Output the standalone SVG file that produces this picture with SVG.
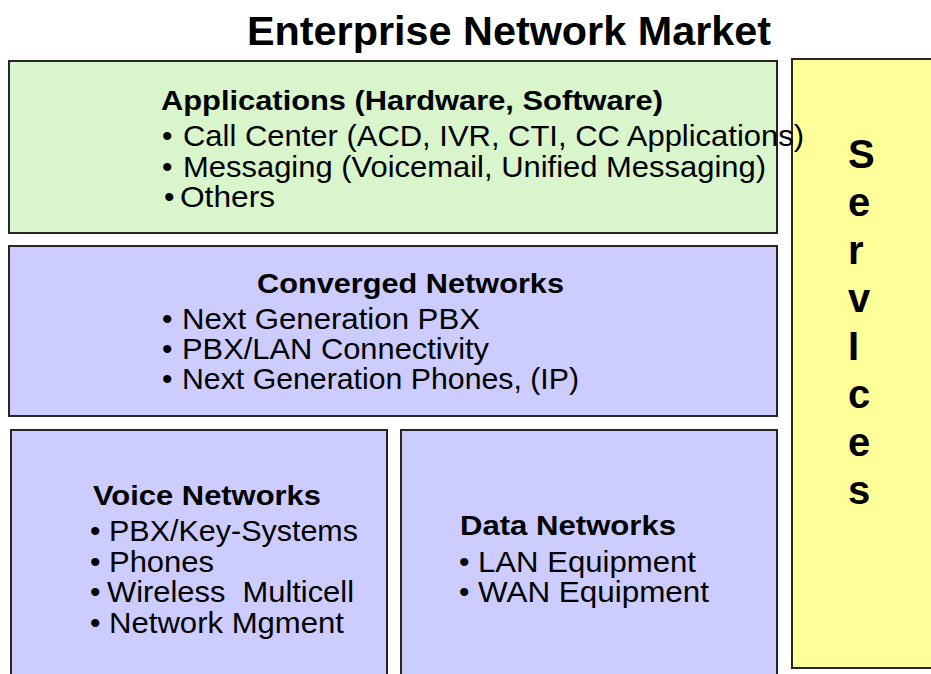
<svg xmlns="http://www.w3.org/2000/svg" width="931" height="674" viewBox="0 0 931 674">
<style>
.box{stroke:#262626;stroke-width:2}
.green{fill:#D8F5CC}
.lav{fill:#CCCCFF}
.yel{fill:#FFFF99}
text{font-family:"Liberation Sans",Arial,sans-serif;fill:#000}
.title{font-size:41px;font-weight:bold}
.hd{font-size:28px;font-weight:bold}
.it{font-size:30px;white-space:pre}
.svc{font-size:40px;font-weight:bold}
</style>
<rect width="931" height="674" fill="#fff"/>
<text class="title" x="247" y="45" textLength="524" lengthAdjust="spacingAndGlyphs">Enterprise Network Market</text>

<g id="services">
<rect class="box yel" x="792" y="59" width="145" height="609"/>
</g>

<g id="applications">
<rect class="box green" x="9" y="61" width="768" height="172"/>
<text class="hd" x="161" y="110" textLength="502" lengthAdjust="spacingAndGlyphs">Applications (Hardware, Software)</text>
<text class="it" x="162" y="146">•<tspan x="183" textLength="621" lengthAdjust="spacingAndGlyphs">Call Center (ACD, IVR, CTI, CC Applications)</tspan></text>
<text class="it" x="162" y="177">•<tspan x="183" textLength="583" lengthAdjust="spacingAndGlyphs">Messaging (Voicemail, Unified Messaging)</tspan></text>
<text class="it" x="164" y="207">•<tspan x="180" textLength="95" lengthAdjust="spacingAndGlyphs">Others</tspan></text>
</g>

<g id="converged">
<rect class="box lav" x="9" y="246" width="768" height="170"/>
<text class="hd" x="257" y="293" textLength="307" lengthAdjust="spacingAndGlyphs">Converged Networks</text>
<text class="it" x="162" y="329">•<tspan x="182" textLength="298" lengthAdjust="spacingAndGlyphs">Next Generation PBX</tspan></text>
<text class="it" x="162" y="359">•<tspan x="182" textLength="307" lengthAdjust="spacingAndGlyphs">PBX/LAN Connectivity</tspan></text>
<text class="it" x="162" y="389">•<tspan x="182" textLength="397" lengthAdjust="spacingAndGlyphs">Next Generation Phones, (IP)</tspan></text>
</g>

<g id="voice">
<rect class="box lav" x="11" y="430" width="376" height="260"/>
<text class="hd" x="93" y="505" textLength="228" lengthAdjust="spacingAndGlyphs">Voice Networks</text>
<text class="it" x="90" y="541">•<tspan x="109" textLength="249" lengthAdjust="spacingAndGlyphs">PBX/Key-Systems</tspan></text>
<text class="it" x="90" y="572">•<tspan x="109" textLength="105" lengthAdjust="spacingAndGlyphs">Phones</tspan></text>
<text class="it" x="90" y="602">•<tspan x="107" textLength="247" lengthAdjust="spacingAndGlyphs">Wireless  Multicell</tspan></text>
<text class="it" x="90" y="633">•<tspan x="109" textLength="235" lengthAdjust="spacingAndGlyphs">Network Mgment</tspan></text>
</g>

<g id="data">
<rect class="box lav" x="401" y="430" width="376" height="260"/>
<text class="hd" x="460" y="535" textLength="216" lengthAdjust="spacingAndGlyphs">Data Networks</text>
<text class="it" x="459" y="572">•<tspan x="478" textLength="218" lengthAdjust="spacingAndGlyphs">LAN Equipment</tspan></text>
<text class="it" x="459" y="602">•<tspan x="478" textLength="231" lengthAdjust="spacingAndGlyphs">WAN Equipment</tspan></text>
</g>

<g id="services-label">
<text class="svc" x="848" y="168">S</text>
<text class="svc" x="848" y="216">e</text>
<text class="svc" x="848" y="264">r</text>
<text class="svc" x="848" y="312">v</text>
<text class="svc" x="848" y="360">I</text>
<text class="svc" x="848" y="408">c</text>
<text class="svc" x="848" y="456">e</text>
<text class="svc" x="848" y="504">s</text>
</g>

<g id="connectors"></g>
</svg>
